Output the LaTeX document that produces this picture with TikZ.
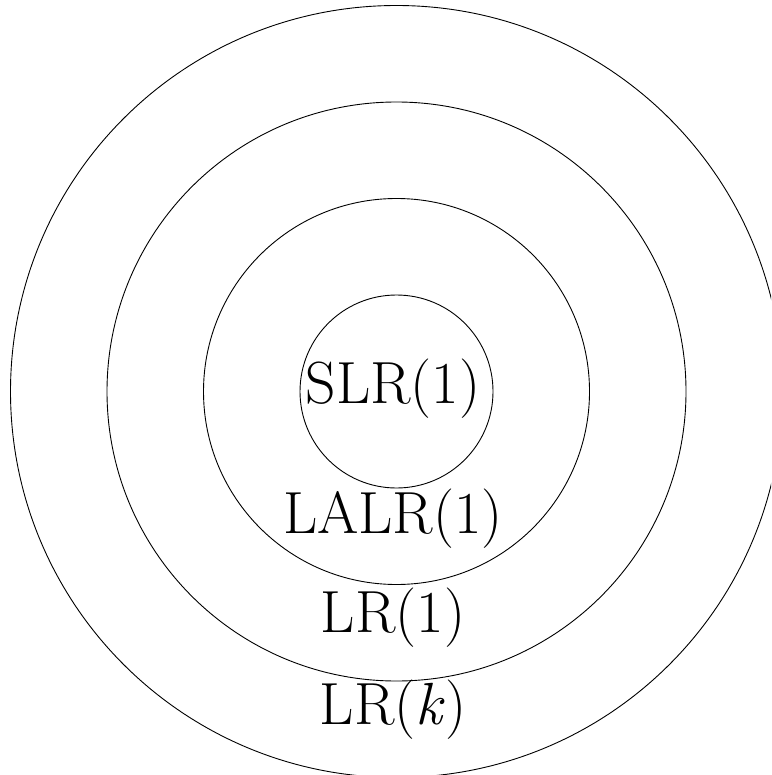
\documentclass[tikz,border=0pt]{standalone}
\begin{document}
\begin{tikzpicture}[x=1pt,y=-1pt,
  ring/.style={draw=black,line width=0.9pt},
  lbl/.style={anchor=base,inner sep=0pt,font=\fontsize{59.5}{64}\selectfont}]
\useasboundingbox (0,0) rectangle (771,775);
\clip (0,0) rectangle (771,775);
\coordinate (c) at (396.5,391.5);
\draw[ring] (c) circle[radius=96.5];
\draw[ring] (c) circle[radius=193];
\draw[ring] (c) circle[radius=289.5];
\draw[ring] (c) circle[radius=386];
\node[lbl] (slr) at (393,403) {SLR(1)};
\node[lbl] (lalr) at (393,533) {LALR(1)};
\node[lbl] (lr1) at (393,632) {LR(1)};
\node[lbl] (lrk) at (393,724) {LR(\textit{k\/})};
\end{tikzpicture}
\end{document}
